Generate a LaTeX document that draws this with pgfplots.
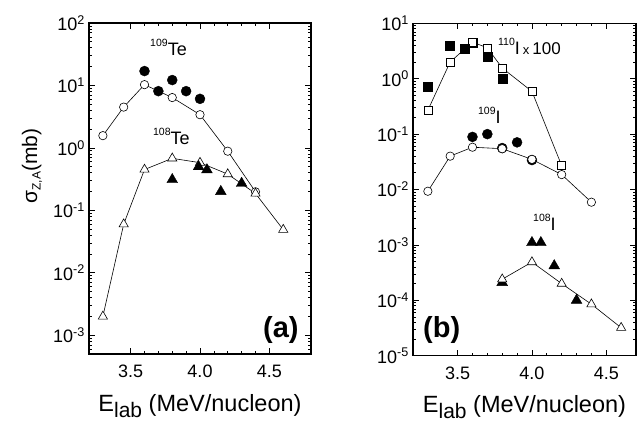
\documentclass[border=0pt]{standalone}
\usepackage{pgfplots}
\pgfplotsset{compat=1.18}
\usepackage{fontspec}
\setmainfont{Liberation Sans}
\newcommand{\iso}[2]{\raisebox{9pt}{\fontsize{10.5}{10.5}\selectfont #1}#2}
\pgfplotsset{
  myax/.style={
    scale only axis,
    xmin=3.2,
    tick align=inside,
    major tick length=6pt, minor tick length=3pt,
    axis line style={line width=1.1pt},
    every tick/.style={line width=0.7pt, black},
    xtick={3.5,4,4.5}, xticklabels={3.5,4.0,4.5},
    minor x tick num=4,
    tick label style={font=\fontsize{18}{18}\selectfont},
    xticklabel style={inner sep=0pt, anchor=north, yshift=-11pt},
    yticklabel style={inner sep=0pt, anchor=east, xshift=-4pt},
    xlabel={E\raisebox{-6pt}{\fontsize{21}{21}\selectfont lab} (MeV/nucleon)},
    xlabel style={font=\fontsize{23.5}{24}\selectfont, at={(axis description cs:0.5,0)}, anchor=base, yshift=-57pt, inner sep=0pt},
    clip=false,
  },
  calcline/.style={black, line width=0.6pt, mark options={solid, fill=white, line width=0.6pt}},
  expt/.style={black, only marks, mark options={fill=black}},
}
\tikzset{
  isolab/.style={anchor=base west, inner sep=0pt, font=\fontsize{18}{18}\selectfont},
  panel/.style={inner sep=0pt, font=\fontsize{29}{29}\selectfont\bfseries},
}
\begin{document}
\begin{tikzpicture}
\useasboundingbox (0pt,0pt) rectangle (642pt,421pt);
% ---------- panel (a)
\begin{semilogyaxis}[myax, at={(89pt,67pt)}, anchor=south west, width=222pt, height=331pt,
  xmax=4.8, ymin=5e-4, ymax=100,
  ytick={1e-3,1e-2,1e-1,1,10,100},
  minor ytick={5e-4,6e-4,7e-4,8e-4,9e-4,2e-3,3e-3,4e-3,5e-3,6e-3,7e-3,8e-3,9e-3,2e-2,3e-2,4e-2,5e-2,6e-2,7e-2,8e-2,9e-2,0.2,0.3,0.4,0.5,0.6,0.7,0.8,0.9,2,3,4,5,6,7,8,9,20,30,40,50,60,70,80,90},
  yticklabels={10\textsuperscript{-3},10\textsuperscript{-2},10\textsuperscript{-1},10\textsuperscript{0},10\textsuperscript{1},10\textsuperscript{2}},
  ylabel={σ\raisebox{-3.5pt}{\fontsize{12}{12}\selectfont Z,A}(mb)},
  ylabel style={font=\fontsize{21}{21}\selectfont, at={(axis description cs:-0.257,0.568)}, anchor=center, inner sep=0pt},
]
\addplot[calcline, mark=*, mark size=4.2pt] coordinates {(3.3,1.57) (3.45,4.5) (3.6,10.3) (3.8,6.4) (4.0,3.4) (4.2,0.885) (4.4,0.198)};
\addplot[calcline, mark=triangle*, mark size=5.3pt] coordinates {(3.3,0.002) (3.45,0.06) (3.6,0.45) (3.8,0.68) (4.0,0.58) (4.2,0.38) (4.4,0.186) (4.6,0.049)};
\addplot[expt, mark=*, mark size=5pt] coordinates {(3.6,17) (3.7,8.1) (3.8,12.2) (3.9,8.1) (4.0,6.1)};
\addplot[expt, mark=triangle*, mark size=6.2pt] coordinates {(3.8,0.31) (3.99,0.5) (4.05,0.445) (4.15,0.2) (4.3,0.27)};
\node[isolab] at (rel axis cs:0.275,0.903) {\iso{109}{Te}};
\node[isolab] at (rel axis cs:0.288,0.634) {\iso{108}{Te}};
\node[panel, anchor=base east] at (rel axis cs:0.945,0.051) {(a)};
\end{semilogyaxis}
% ---------- panel (b)
\begin{semilogyaxis}[myax, at={(413pt,65.3pt)}, anchor=south west, width=223pt, height=332.4pt,
  xmax=4.7, ymin=1e-5, ymax=10,
  ytick={1e-5,1e-4,1e-3,1e-2,1e-1,1,10},
  minor ytick={2e-5,3e-5,4e-5,5e-5,6e-5,7e-5,8e-5,9e-5,2e-4,3e-4,4e-4,5e-4,6e-4,7e-4,8e-4,9e-4,2e-3,3e-3,4e-3,5e-3,6e-3,7e-3,8e-3,9e-3,2e-2,3e-2,4e-2,5e-2,6e-2,7e-2,8e-2,9e-2,0.2,0.3,0.4,0.5,0.6,0.7,0.8,0.9,2,3,4,5,6,7,8,9},
  yticklabels={10\textsuperscript{-5},10\textsuperscript{-4},10\textsuperscript{-3},10\textsuperscript{-2},10\textsuperscript{-1},10\textsuperscript{0},10\textsuperscript{1}},
]
\addplot[expt, mark=*, mark size=5pt] coordinates {(3.6,0.089) (3.7,0.10) (3.8,0.056) (3.9,0.071) (4.0,0.034)};
\addplot[expt, mark=square*, mark size=4.5pt] coordinates {(3.6,4.4)};
\addplot[calcline, mark=*, mark size=4.2pt] coordinates {(3.3,0.0093) (3.45,0.04) (3.6,0.058) (3.8,0.0545) (4.0,0.035) (4.2,0.0186) (4.4,0.0059)};
\addplot[calcline, mark=square*, mark size=4pt] coordinates {(3.3,0.27) (3.45,2.0) (3.6,4.6) (3.7,3.6) (3.8,1.56) (4.0,0.59) (4.2,0.027)};
\addplot[expt, mark=square*, mark size=4.5pt] coordinates {(3.3,0.71) (3.45,4.0) (3.55,3.5) (3.7,2.5) (3.8,1.0)};
\addplot[expt, mark=triangle*, mark size=6.2pt] coordinates {(3.8,2.1e-4) (4.0,1.1e-3) (4.06,1.1e-3) (4.15,4.2e-4) (4.3,1.0e-4)};
\addplot[calcline, mark=triangle*, mark size=5.3pt] coordinates {(3.8,2.4e-4) (4.0,4.9e-4) (4.2,2.0e-4) (4.4,8.5e-5) (4.6,3.2e-5)};
\node[isolab] at (rel axis cs:0.381,0.905) {\iso{110}{I}\,{\fontsize{13}{13}\selectfont x}\,{\fontsize{17}{17}\selectfont 100}};
\node[isolab] at (rel axis cs:0.291,0.70) {\iso{109}{I}};
\node[isolab] at (rel axis cs:0.538,0.378) {\iso{108}{I}};
\node[panel, anchor=base west] at (rel axis cs:0.045,0.056) {(b)};
\end{semilogyaxis}
\end{tikzpicture}
\end{document}
